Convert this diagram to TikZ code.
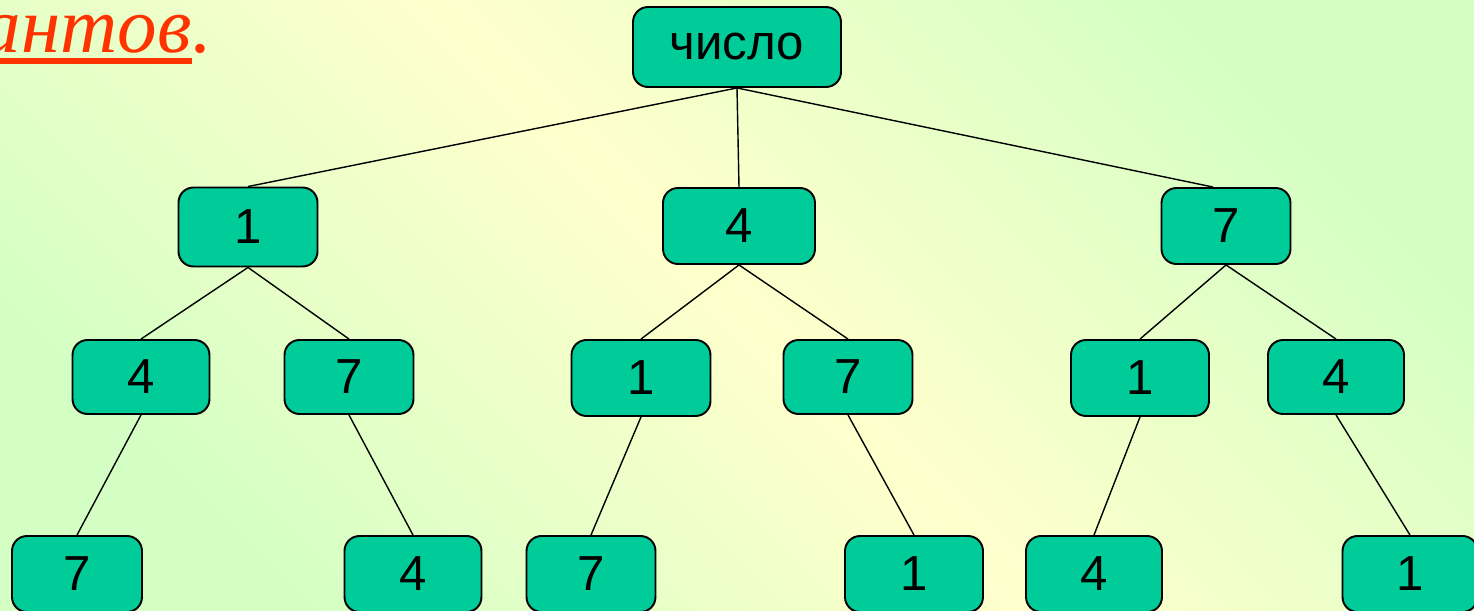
\documentclass[tikz,border=0pt]{standalone}
\usepackage{fontspec}
\setmainfont{Liberation Sans}
\newfontfamily\titlefont{Liberation Serif}
\usetikzlibrary{positioning}
\definecolor{boxgreen}{HTML}{00CC99}
\definecolor{bgyellow}{HTML}{FFFFCC}
\definecolor{bggreen}{HTML}{D4FFC4}
\definecolor{titlered}{HTML}{FF3300}
\tikzset{
  numbox/.style={draw=black, line width=1.1pt, fill=boxgreen, rounded corners=0.3cm,
    minimum height=1.52cm, inner sep=0pt, font=\fontsize{28}{34}\selectfont},
  branch/.style={line width=0.8pt}
}
\begin{document}
\begin{tikzpicture}[x=0.02cm,y=-0.02cm]
\clip (0,0) rectangle (1474,611);
\useasboundingbox (0,0) rectangle (1474,611);
\shade[top color=bggreen, bottom color=bggreen, middle color=bgyellow, shading angle=-45] (0,0) rectangle (1474,611);

% end of the heading line
\node [anchor=base east, inner sep=0pt, text=titlered, font=\titlefont\itshape\fontsize{45}{52}\selectfont] (tail) at (192,53) {антов};
\node [anchor=base west, inner sep=0pt, text=titlered, font=\titlefont\itshape\fontsize{45}{52}\selectfont] (dot) at (tail.base east) {.};
\fill [titlered] (-5,58) rectangle (192,64);

% tree of numbers
\node [numbox, minimum width=4.16cm, minimum height=1.6cm] (root) at (737,47) {число};
\node [numbox, minimum width=2.78cm, minimum height=1.58cm] (n1) at (248,227) {1};
\node [numbox, minimum width=3.04cm] (n4) at (739,226) {4};
\node [numbox, minimum width=2.58cm] (n7) at (1226,226) {7};

\node [numbox, minimum width=2.74cm, minimum height=1.48cm] (n14) at (141,377) {4};
\node [numbox, minimum width=2.58cm, minimum height=1.48cm] (n17) at (349,377) {7};
\node [numbox, minimum width=2.78cm] (n41) at (641,378) {1};
\node [numbox, minimum width=2.58cm, minimum height=1.48cm] (n47) at (848,377) {7};
\node [numbox, minimum width=2.76cm] (n71) at (1140,378) {1};
\node [numbox, minimum width=2.72cm, minimum height=1.48cm] (n74) at (1336,377) {4};

\node [numbox, minimum width=2.6cm] (n147) at (77,574) {7};
\node [numbox, minimum width=2.74cm] (n174) at (413,574) {4};
\node [numbox, minimum width=2.58cm] (n417) at (591,574) {7};
\node [numbox, minimum width=2.76cm] (n471) at (914,574) {1};
\node [numbox, minimum width=2.72cm] (n714) at (1094,574) {4};
\node [numbox, minimum width=2.7cm] (n741) at (1410,574) {1};

\draw [branch] (root.south) -- (n1.north);
\draw [branch] (root.south) -- (n4.north);
\draw [branch] (root.south) -- ([xshift=-0.26cm]n7.north);
\draw [branch] (n1.south) -- (n14.north);
\draw [branch] (n1.south) -- (n17.north);
\draw [branch] (n4.south) -- (n41.north);
\draw [branch] (n4.south) -- (n47.north);
\draw [branch] (n7.south) -- (n71.north);
\draw [branch] (n7.south) -- (n74.north);
\draw [branch] (n14.south) -- (n147.north);
\draw [branch] (n17.south) -- (n174.north);
\draw [branch] (n41.south) -- (n417.north);
\draw [branch] (n47.south) -- (n471.north);
\draw [branch] (n71.south) -- (n714.north);
\draw [branch] (n74.south) -- (n741.north);
\end{tikzpicture}
\end{document}
